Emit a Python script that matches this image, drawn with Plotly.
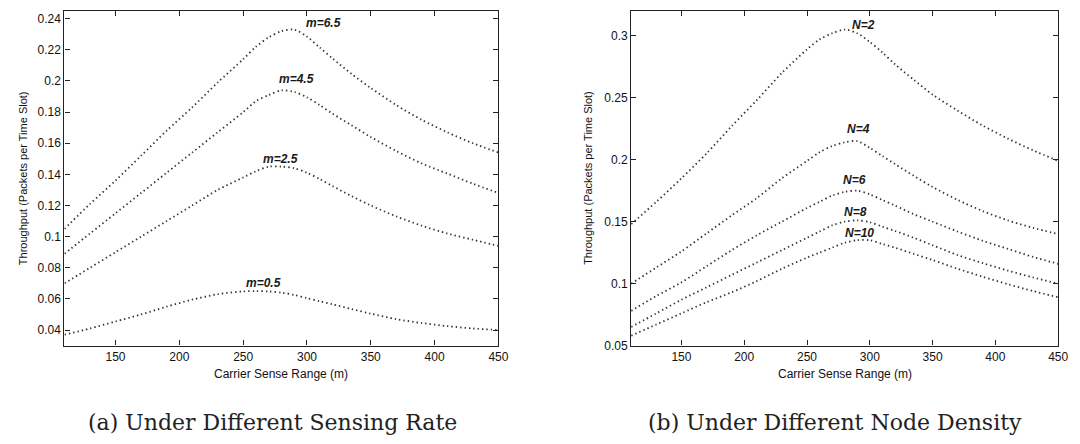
import plotly.graph_objects as go

# ---------------- data ----------------
x_range = [110, 130, 150, 170, 190, 210, 230, 250, 260, 270, 280, 290,
           300, 310, 320, 335, 350, 370, 390, 410, 430, 450]

# (a) different sensing rate
m65 = [0.105, 0.121, 0.136, 0.152, 0.168, 0.183, 0.199, 0.214, 0.222, 0.228, 0.232, 0.233,
       0.2285, 0.2215, 0.2145, 0.2045, 0.1955, 0.1845, 0.175, 0.167, 0.160, 0.154]
m45 = [0.089, 0.102, 0.115, 0.128, 0.141, 0.154, 0.167, 0.180, 0.187, 0.191, 0.194, 0.193,
       0.1895, 0.1845, 0.179, 0.1715, 0.164, 0.155, 0.147, 0.1405, 0.134, 0.128]
m25 = [0.070, 0.080, 0.090, 0.100, 0.110, 0.120, 0.130, 0.138, 0.142, 0.145, 0.145, 0.144,
       0.141, 0.137, 0.1325, 0.126, 0.120, 0.113, 0.107, 0.102, 0.098, 0.094]
m05 = [0.037, 0.041, 0.0455, 0.050, 0.055, 0.0595, 0.063, 0.0648, 0.065, 0.0648, 0.064, 0.0625,
       0.0605, 0.0585, 0.0565, 0.0535, 0.0505, 0.047, 0.0445, 0.0425, 0.041, 0.040]
series_a = [("m=6.5", m65), ("m=4.5", m45), ("m=2.5", m25), ("m=0.5", m05)]
labels_a = [("m=6.5", 313, 0.237), ("m=4.5", 292, 0.201),
            ("m=2.5", 279, 0.150), ("m=0.5", 266, 0.070)]

# (b) different node density
n2 = [0.148, 0.166, 0.185, 0.205, 0.227, 0.248, 0.270, 0.289, 0.297, 0.302, 0.305, 0.302,
      0.295, 0.2865, 0.277, 0.2645, 0.2525, 0.2395, 0.2275, 0.217, 0.2075, 0.199]
n4 = [0.100, 0.113, 0.126, 0.1405, 0.155, 0.169, 0.185, 0.199, 0.206, 0.211, 0.214, 0.215,
      0.2095, 0.203, 0.1965, 0.187, 0.178, 0.1675, 0.1585, 0.151, 0.145, 0.140]
n6 = [0.078, 0.090, 0.101, 0.114, 0.127, 0.139, 0.150, 0.161, 0.166, 0.171, 0.174, 0.175,
      0.172, 0.1675, 0.163, 0.156, 0.150, 0.142, 0.1345, 0.128, 0.1215, 0.116]
n8 = [0.065, 0.076, 0.087, 0.097, 0.107, 0.117, 0.127, 0.137, 0.142, 0.147, 0.150, 0.151,
      0.1495, 0.146, 0.1425, 0.137, 0.131, 0.123, 0.1165, 0.1105, 0.105, 0.100]
n10 = [0.058, 0.067, 0.076, 0.085, 0.093, 0.102, 0.112, 0.121, 0.125, 0.129, 0.133, 0.135,
       0.135, 0.132, 0.129, 0.124, 0.119, 0.112, 0.1055, 0.0995, 0.094, 0.089]
series_b = [("N=2", n2), ("N=4", n4), ("N=6", n6), ("N=8", n8), ("N=10", n10)]
labels_b = [("N=2", 295, 0.309), ("N=4", 291, 0.225), ("N=6", 288, 0.184),
            ("N=8", 289, 0.158), ("N=10", 292, 0.141)]

x_ticks = [150, 200, 250, 300, 350, 400, 450]
ya_ticks = [0.04, 0.06, 0.08, 0.1, 0.12, 0.14, 0.16, 0.18, 0.2, 0.22, 0.24]
ya_text = ["0.04", "0.06", "0.08", "0.1", "0.12", "0.14", "0.16", "0.18", "0.2", "0.22", "0.24"]
yb_ticks = [0.05, 0.1, 0.15, 0.2, 0.25, 0.3]
yb_text = ["0.05", "0.1", "0.15", "0.2", "0.25", "0.3"]

x_title = "Carrier Sense Range (m)"
y_title = "Throughput (Packets per Time Slot)"
captions = ["(a) Under Different Sensing Rate", "(b) Under Different Node Density"]

# ---------------- figure ----------------
W, H = 1080, 444
fig = go.Figure()
line_style = dict(color="#333333", width=1.8, dash="1.4px,3px", shape="spline", smoothing=0.8)

for name, ys in series_a:
    fig.add_trace(go.Scatter(x=x_range, y=ys, mode="lines", name=name,
                             line=line_style, xaxis="x", yaxis="y", showlegend=False))
for name, ys in series_b:
    fig.add_trace(go.Scatter(x=x_range, y=ys, mode="lines", name=name,
                             line=line_style, xaxis="x2", yaxis="y2", showlegend=False))

tickfont = dict(family="Liberation Sans, Arial, sans-serif", size=12, color="#111")
common = dict(showgrid=False, zeroline=False, showline=True, linecolor="#222", linewidth=1.2,
              mirror="allticks", ticks="inside", ticklen=5, tickcolor="#222", tickwidth=1,
              tickfont=tickfont)

def px_x(p):
    return p / W

def px_y(p):
    return 1 - p / H

fig.update_layout(
    width=W, height=H,
    margin=dict(l=0, r=0, t=0, b=0),
    paper_bgcolor="white", plot_bgcolor="white",
    xaxis=dict(domain=[px_x(57), px_x(495)], range=[110, 450], tickvals=x_ticks,
               anchor="y", **common),
    yaxis=dict(domain=[px_y(343), px_y(3)], range=[0.03, 0.245], tickvals=ya_ticks,
               ticktext=ya_text, anchor="x", **common),
    xaxis2=dict(domain=[px_x(629), px_x(1060)], range=[110, 450], tickvals=x_ticks,
                anchor="y2", **common),
    yaxis2=dict(domain=[px_y(343), px_y(3)], range=[0.05, 0.32], tickvals=yb_ticks,
                ticktext=yb_text, anchor="x2", **common),
)

annots = []
lab_font = dict(family="Liberation Sans, Arial, sans-serif", size=12, color="#1a1a1a")
for text, xv, yv in labels_a:
    annots.append(dict(x=xv, y=yv, xref="x", yref="y", text="<b><i>%s</i></b>" % text,
                       showarrow=False, font=lab_font, xanchor="center", yanchor="middle"))
for text, xv, yv in labels_b:
    annots.append(dict(x=xv, y=yv, xref="x2", yref="y2", text="<b><i>%s</i></b>" % text,
                       showarrow=False, font=lab_font, xanchor="center", yanchor="middle"))

title_font = dict(family="Liberation Sans, Arial, sans-serif", size=12, color="#111")
for cx in (276, 844.5):
    annots.append(dict(x=px_x(cx), y=px_y(372), xref="paper", yref="paper", text=x_title,
                       showarrow=False, font=title_font, xanchor="center", yanchor="middle"))
for cx in (15, 586):
    annots.append(dict(x=px_x(cx), y=px_y(173), xref="paper", yref="paper", text=y_title,
                       textangle=-90, showarrow=False, font=dict(title_font, size=11),
                       xanchor="center", yanchor="middle"))

cap_font = dict(family="DejaVu Serif, serif", size=22, color="#222")
for cx, cap in zip((267, 834.5), captions):
    annots.append(dict(x=px_x(cx), y=px_y(421), xref="paper", yref="paper", text=cap,
                       showarrow=False, font=cap_font, xanchor="center", yanchor="middle"))

fig.update_layout(annotations=annots)
fig.write_html("out.html")
